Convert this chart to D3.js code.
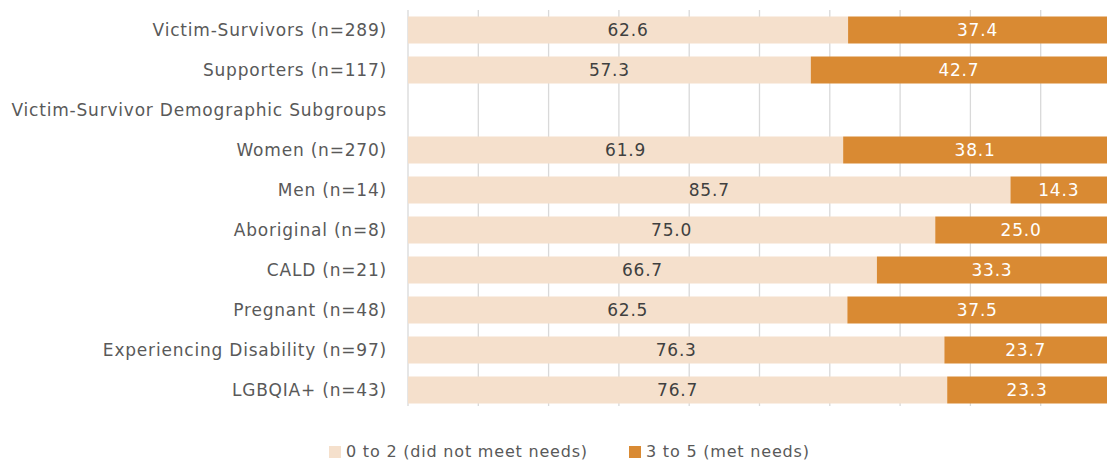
<!DOCTYPE html>
<html>
<head>
<meta charset="utf-8">
<script src="https://cdn.jsdelivr.net/npm/d3@7"></script>
<style>
  body { margin: 0; background: #fff; }
  text { font-family: "DejaVu Sans", sans-serif; letter-spacing: 0.8px; }
</style>
</head>
<body>
<div id="chart"></div>
<script>
// categories top to bottom, blank value means a header row without bars
var categories = ["Victim-Survivors (n=289)", "Supporters (n=117)",
  "Victim-Survivor Demographic Subgroups", "Women (n=270)", "Men (n=14)",
  "Aboriginal (n=8)", "CALD (n=21)", "Pregnant (n=48)",
  "Experiencing Disability (n=97)", "LGBQIA+ (n=43)"];
var notMet = [62.6, 57.3, null, 61.9, 85.7, 75.0, 66.7, 62.5, 76.3, 76.7];
var met = [37.4, 42.7, null, 38.1, 14.3, 25.0, 33.3, 37.5, 23.7, 23.3];
var seriesNames = ["0 to 2 (did not meet needs)", "3 to 5 (met needs)"];
var colors = ["#F5E0CC", "#D98A33"];
var ticks = [0, 10, 20, 30, 40, 50, 60, 70, 80, 90, 100];

var width = 1107, height = 462;

var svg = d3.select("#chart").append("svg")
  .attr("width", width).attr("height", height);

var x = d3.scaleLinear().domain([0, 100]).range([408, 1111]);
var y = d3.scaleBand().domain(categories).range([10, 410]).paddingInner(0.325).paddingOuter(0.1625);

// gridlines
svg.append("g").selectAll("line")
  .data(ticks).enter().append("line")
  .attr("x1", function(d) { return x(d); })
  .attr("x2", function(d) { return x(d); })
  .attr("y1", 10).attr("y2", 406)
  .attr("stroke", "#D9D9D9").attr("stroke-width", 1.3);

// category labels
svg.append("g").selectAll("text")
  .data(categories).enter().append("text")
  .attr("x", 387)
  .attr("y", function(d) { return y(d) + y.bandwidth() / 2; })
  .attr("dy", "0.35em")
  .attr("text-anchor", "end")
  .attr("fill", "#595959")
  .attr("font-size", "17px")
  .text(function(d) { return d; });

var rows = categories.map(function(c, i) {
  return { cat: c, a: notMet[i], b: met[i] };
}).filter(function(d) { return d.a != null; });

var bars = svg.append("g");

bars.selectAll(".a").data(rows).enter().append("rect")
  .attr("x", x(0))
  .attr("y", function(d) { return y(d.cat); })
  .attr("width", function(d) { return x(d.a) - x(0); })
  .attr("height", y.bandwidth())
  .attr("fill", colors[0]);

bars.selectAll(".b").data(rows).enter().append("rect")
  .attr("x", function(d) { return x(d.a); })
  .attr("y", function(d) { return y(d.cat); })
  .attr("width", function(d) { return x(100) - x(d.a); })
  .attr("height", y.bandwidth())
  .attr("fill", colors[1]);

// value labels
bars.selectAll(".la").data(rows).enter().append("text")
  .attr("x", function(d) { return (x(0) + x(d.a)) / 2; })
  .attr("y", function(d) { return y(d.cat) + y.bandwidth() / 2; })
  .attr("dy", "0.35em")
  .attr("text-anchor", "middle")
  .attr("fill", "#404040")
  .attr("font-size", "17px")
  .text(function(d) { return d.a.toFixed(1); });

bars.selectAll(".lb").data(rows).enter().append("text")
  .attr("x", function(d) { return (x(d.a) + Math.min(x(100), width)) / 2; })
  .attr("y", function(d) { return y(d.cat) + y.bandwidth() / 2; })
  .attr("dy", "0.35em")
  .attr("text-anchor", "middle")
  .attr("fill", "#ffffff")
  .attr("font-size", "17px")
  .text(function(d) { return d.b.toFixed(1); });

// legend
var legendX = [329, 629];
var legend = svg.append("g").selectAll("g")
  .data(seriesNames).enter().append("g")
  .attr("transform", function(d, i) { return "translate(" + legendX[i] + ",446)"; });
legend.append("rect").attr("width", 12).attr("height", 12)
  .attr("fill", function(d, i) { return colors[i]; });
legend.append("text").attr("x", 17).attr("y", 5).attr("dy", "0.35em")
  .attr("fill", "#595959").attr("font-size", "16px")
  .text(function(d) { return d; });
</script>
</body>
</html>
